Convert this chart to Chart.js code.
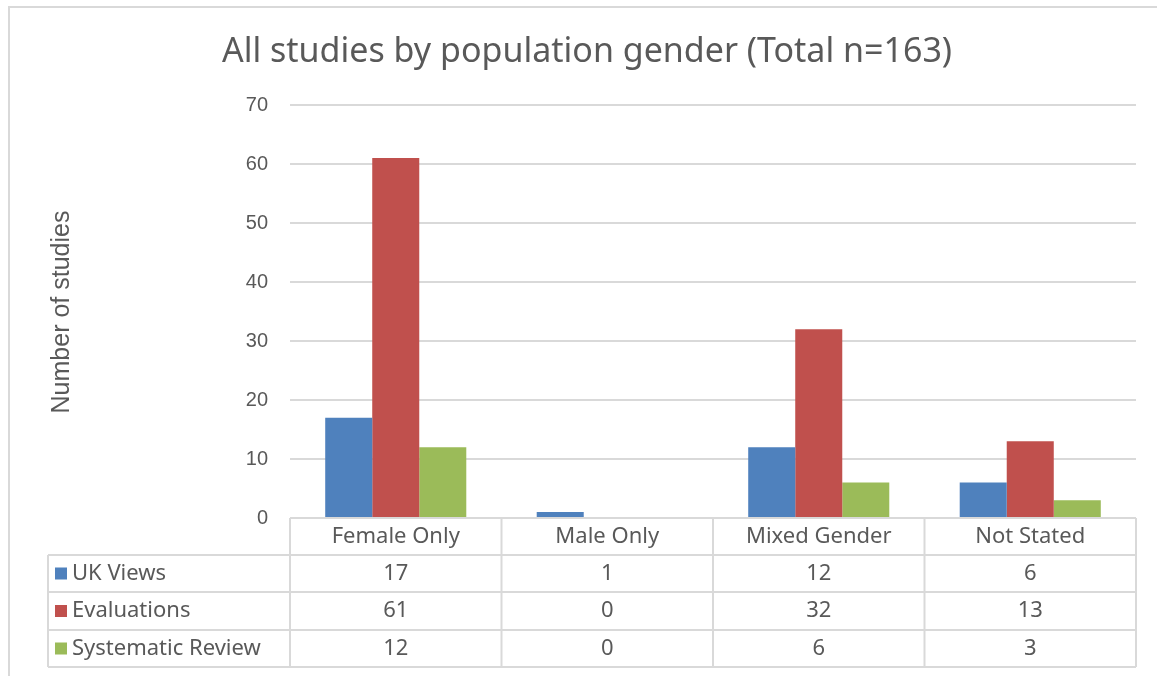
<!DOCTYPE html>
<html>
<head>
<meta charset="utf-8">
<script src="https://cdn.jsdelivr.net/npm/chart.js@4/dist/chart.umd.min.js"></script>
<style>
  html, body { margin: 0; padding: 0; background: #fff; }
  #wrap { width: 1157px; height: 676px; }
</style>
</head>
<body>
<div id="wrap"><canvas id="grafico" width="1157" height="676"></canvas></div>
<script>
var categorias = ["Female Only", "Male Only", "Mixed Gender", "Not Stated"];
var uk_views = [17, 1, 12, 6];
var evaluaciones = [61, 0, 32, 13];
var revision = [12, 0, 6, 3];
var nombres = ["UK Views", "Evaluations", "Systematic Review"];
var colores = ["#4F81BD", "#C0504D", "#9BBB59"];
var titulo = "All studies by population gender (Total n=163)";
var titulo_y = "Number of studies";

var fuente = "'Noto Sans', sans-serif";
var fuente_eje = "'Liberation Sans', Arial, sans-serif";
var gris = "#595959";
var linea = "#d9d9d9";

// tabla de datos debajo del grafico + titulos
var tabla = {
    id: "tabla",
    afterDraw: function (chart) {
        var c = chart.ctx;
        var area = chart.chartArea;
        var x = chart.scales.x;
        var ancho = (area.right - area.left) / categorias.length;
        var filas = [area.bottom, area.bottom + 37, area.bottom + 74, area.bottom + 112, area.bottom + 149];
        var izq = 48;
        c.save();
        // borde exterior
        c.strokeStyle = linea;
        c.lineWidth = 2;
        c.beginPath();
        c.moveTo(9, 700);
        c.lineTo(9, 7);
        c.lineTo(1170, 7);
        c.stroke();

        // titulo
        c.fillStyle = gris;
        c.font = "34px " + fuente;
        c.textAlign = "center";
        c.textBaseline = "middle";
        c.fillText(titulo, 587, 52);

        // titulo eje y
        c.save();
        c.translate(62, 312);
        c.rotate(-Math.PI / 2);
        c.font = "25px " + fuente_eje;
        c.fillText(titulo_y, 0, 0);
        c.restore();

        // lineas de la tabla
        c.beginPath();
        c.moveTo(area.left, filas[0]);
        c.lineTo(area.right, filas[0]);
        for (var r = 1; r < filas.length; r++) {
            c.moveTo(izq, filas[r]);
            c.lineTo(area.right, filas[r]);
        }
        c.moveTo(izq, filas[1]);
        c.lineTo(izq, filas[4]);
        for (var k = 0; k <= categorias.length; k++) {
            var xx = area.left + ancho * k;
            c.moveTo(xx, filas[0]);
            c.lineTo(xx, filas[4]);
        }
        c.stroke();

        c.font = "22px " + fuente;
        c.fillStyle = gris;
        c.textAlign = "center";
        for (var i = 0; i < categorias.length; i++) {
            var cx = x.getPixelForValue(i);
            c.fillText(categorias[i], cx, (filas[0] + filas[1]) / 2);
        }
        var datos = chart.data.datasets;
        for (var d = 0; d < datos.length; d++) {
            var cy = (filas[d + 1] + filas[d + 2]) / 2;
            c.fillStyle = datos[d].backgroundColor;
            c.fillRect(55, cy - 6, 12, 12);
            c.fillStyle = gris;
            c.textAlign = "left";
            c.fillText(datos[d].label, 72, cy);
            c.textAlign = "center";
            for (var j = 0; j < datos[d].data.length; j++) {
                c.fillText(String(datos[d].data[j]), x.getPixelForValue(j), cy);
            }
        }
        c.restore();
    }
};

var dataset = {
    labels: categorias,
    datasets: [
        { label: nombres[0], data: uk_views, backgroundColor: colores[0] },
        { label: nombres[1], data: evaluaciones, backgroundColor: colores[1] },
        { label: nombres[2], data: revision, backgroundColor: colores[2] }
    ]
};

var grafico = new Chart(document.getElementById("grafico"), {
    type: "bar",
    data: dataset,
    options: {
        responsive: false,
        animation: false,
        layout: { padding: { left: 0, right: 21, top: 105, bottom: 158 } },
        datasets: { bar: { categoryPercentage: 0.667, barPercentage: 1 } },
        plugins: {
            legend: { display: false },
            title: { display: false },
            tooltip: { enabled: false }
        },
        scales: {
            x: {
                display: true,
                grid: { display: false, drawTicks: false },
                border: { display: false },
                ticks: { display: false }
            },
            y: {
                min: 0,
                max: 70,
                afterFit: function (s) { s.width = 290; },
                grid: { color: linea, lineWidth: 2, drawTicks: false },
                border: { display: false },
                ticks: {
                    stepSize: 10,
                    padding: 22,
                    color: gris,
                    font: { family: fuente_eje, size: 20 }
                }
            }
        }
    },
    plugins: [tabla]
});
</script>
</body>
</html>
